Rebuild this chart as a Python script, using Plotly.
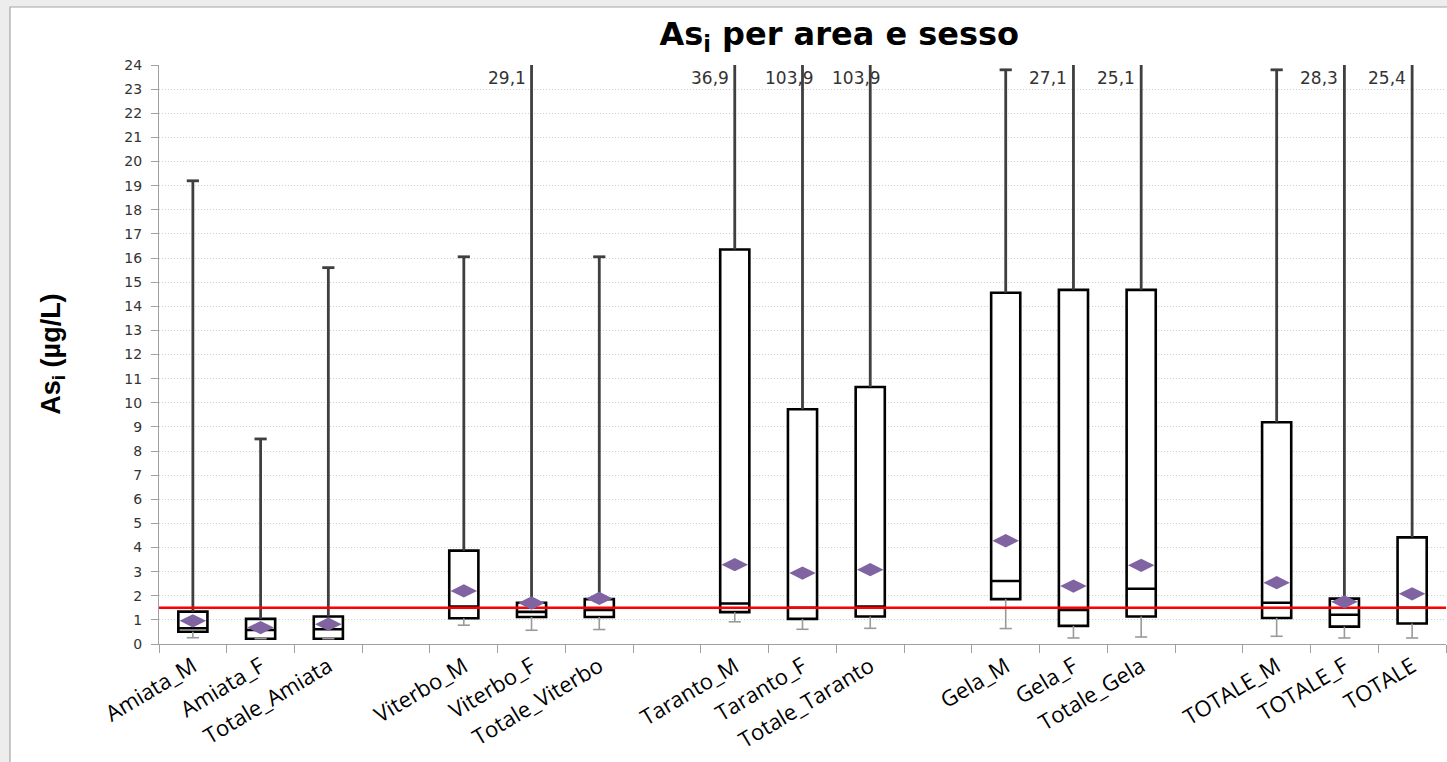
import plotly.graph_objects as go

# Categories, grouped by area (a blank slot separates the groups)
groups = [
    ["Amiata_M", "Amiata_F", "Totale_Amiata"],
    ["Viterbo_M", "Viterbo_F", "Totale_Viterbo"],
    ["Taranto_M", "Taranto_F", "Totale_Taranto"],
    ["Gela_M", "Gela_F", "Totale_Gela"],
    ["TOTALE_M", "TOTALE_F", "TOTALE"],
]

# Box-plot statistics (µg/L)
mins    = [0.26, 0.22, 0.22, 0.78, 0.57, 0.60, 0.92, 0.61, 0.65, 0.64, 0.25, 0.29, 0.32, 0.25, 0.25]
q1s     = [0.51, 0.22, 0.22, 1.07, 1.12, 1.12, 1.32, 1.04, 1.14, 1.86, 0.75, 1.14, 1.08, 0.72, 0.85]
medians = [0.65, 0.58, 0.61, 1.55, 1.33, 1.41, 1.68, 1.50, 1.55, 2.61, 1.41, 2.29, 1.71, 1.21, 1.50]
q3s     = [1.34, 1.04, 1.14, 3.87, 1.71, 1.86, 16.35, 9.73, 10.65, 14.56, 14.68, 14.68, 9.19, 1.88, 4.42]
maxs    = [19.2, 8.5, 15.6, 16.05, 29.1, 16.05, 36.9, 103.9, 103.9, 23.8, 27.1, 25.1, 23.8, 28.3, 25.4]
means   = [0.96, 0.68, 0.82, 2.20, 1.70, 1.89, 3.29, 2.94, 3.08, 4.28, 2.40, 3.26, 2.54, 1.75, 2.08]

REF_VALUE = 1.5          # reference level (red line)
Y_MAX = 24
y_ticks = list(range(0, Y_MAX + 1))

# slot positions: 3 boxes per group + one empty slot between groups
categories = [c for g in groups for c in g]
positions = [gi * (len(g) + 1) + j for gi, g in enumerate(groups) for j in range(len(g))]
n_slots = positions[-1] + 1

BOX_W = 0.43
CAP = 0.09

fig = go.Figure()

# boxes (Q1, median, Q3)
fig.add_trace(go.Box(
    x=positions, q1=q1s, median=medians, q3=q3s,
    lowerfence=q1s, upperfence=q3s,
    width=BOX_W, fillcolor="white",
    line=dict(color="black", width=2.6),
    whiskerwidth=0, boxpoints=False, hoverinfo="skip", showlegend=False,
))

# upper whiskers (dark, thick) with a cap at the maximum
ux, uy = [], []
for x, q3, mx in zip(positions, q3s, maxs):
    ux += [x, x, None, x - CAP, x + CAP, None]
    uy += [q3, mx, None, mx, mx, None]
fig.add_trace(go.Scatter(x=ux, y=uy, mode="lines",
                         line=dict(color="#3f3f3f", width=2.8),
                         hoverinfo="skip", showlegend=False))

# lower whiskers (thin, grey) with a cap at the minimum
lx, ly = [], []
for x, q1, mn in zip(positions, q1s, mins):
    lx += [x, x, None, x - CAP, x + CAP, None]
    ly += [mn, q1, None, mn, mn, None]
fig.add_trace(go.Scatter(x=lx, y=ly, mode="lines",
                         line=dict(color="#9a9a9a", width=1.6),
                         hoverinfo="skip", showlegend=False))

# reference line
fig.add_trace(go.Scatter(x=[-0.5, n_slots - 0.5], y=[REF_VALUE, REF_VALUE], mode="lines",
                         line=dict(color="#ff0000", width=2.4),
                         hoverinfo="skip", showlegend=False))

# means
fig.add_trace(go.Scatter(x=positions, y=means, mode="markers",
                         marker=dict(symbol="diamond-wide", size=19, color="#8064a2",
                                     line=dict(width=0)),
                         hoverinfo="skip", showlegend=False))

# labels for maxima above the axis range
for x, mx in zip(positions, maxs):
    if mx > Y_MAX:
        txt = f"{mx:.1f}".replace(".", ",")
        fig.add_annotation(x=x, y=23.45, text=txt, showarrow=False,
                           xanchor="right", yanchor="middle",
                           xshift=-4 if len(txt) <= 4 else 13,
                           font=dict(family="DejaVu Sans", size=17, color="#333333"))

# y axis title
fig.add_annotation(xref="paper", yref="paper", x=-0.083, y=0.5,
                   text="<b>As<sub>i</sub> (µg/L)</b>", textangle=-90, showarrow=False,
                   xanchor="center", yanchor="middle",
                   font=dict(family="Liberation Sans Narrow, Arial Narrow, sans-serif",
                             size=27, color="black"))

# chart frame
fig.add_shape(type="rect", xref="paper", yref="paper", layer="below",
              x0=-0.1158, x1=1.2, y0=-0.4, y1=1.1002,
              line=dict(color="#a6a6a6", width=1.2), fillcolor="white")

fig.update_layout(
    width=1447, height=762,
    margin=dict(l=159, r=1, t=65, b=118),
    paper_bgcolor="#ededed", plot_bgcolor="white",
    title=dict(text="<b>As<sub>i</sub> per area e sesso</b>",
               x=0.58, xref="container", xanchor="center",
               y=0.955, yref="container", yanchor="middle",
               font=dict(family="DejaVu Sans, sans-serif", size=32, color="black")),
    xaxis=dict(
        range=[-0.5, n_slots - 0.5],
        tickmode="array", tickvals=positions, ticktext=categories,
        ticks="", tickangle=-31,
        tickfont=dict(family="Open Sans, sans-serif", size=22, color="black"),
        showgrid=False, zeroline=False,
        showline=True, linecolor="#a0a0a0", linewidth=1.2,
        minor=dict(tickmode="linear", tick0=-0.5, dtick=1, ticks="outside",
                   ticklen=8, tickcolor="#a0a0a0", tickwidth=1.2, showgrid=False),
    ),
    yaxis=dict(
        range=[0, Y_MAX], tickmode="array", tickvals=y_ticks,
        ticks="outside", ticklen=7, tickcolor="#a0a0a0", ticklabelstandoff=6,
        tickfont=dict(family="DejaVu Sans", size=14, color="#333333"),
        showgrid=True, gridcolor="#d0d0d0", griddash="1px,2px", gridwidth=1,
        zeroline=False, showline=True, linecolor="#a0a0a0", linewidth=1.2,
    ),
)

fig.write_html("out.html")
